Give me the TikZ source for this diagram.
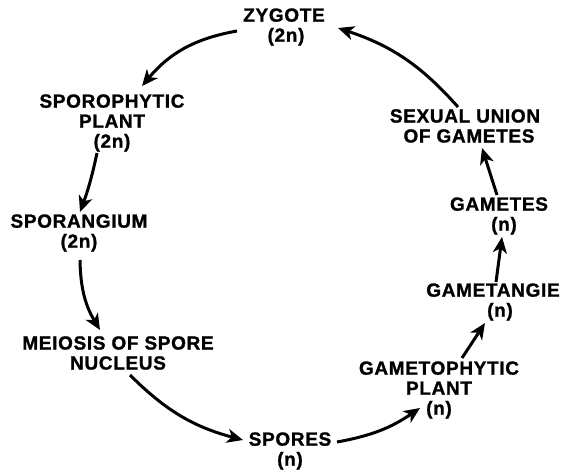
\documentclass[tikz,border=0pt]{standalone}
\usepackage{fontspec}
\setmainfont{Liberation Sans}[LetterSpace=3.5,BoldFeatures={FakeBold=1.2}]
\usetikzlibrary{arrows.meta,calc}
\begin{document}
\begin{tikzpicture}[x=1pt,y=1pt,
  lbl/.style={align=center,inner sep=0pt,font=\bfseries\fontsize{19}{20}\selectfont},
  arr/.style={line width=3pt,-{Stealth[length=16pt,width=14pt,inset=4.5pt]}}]
\useasboundingbox (0,0) rectangle (561,474);
\node[lbl] (zyg) at (284,447) {ZYGOTE\\\hspace*{4pt}(2n)};
\node[lbl] (spo) at (112,351) {SPOROPHYTIC\\PLANT\\(2n)};
\node[lbl] (sporang) at (79,241) {SPORANGIUM\\(2n)};
\node[lbl] (meio) at (118,121) {MEIOSIS OF SPORE\\NUCLEUS};
\node[lbl] (spores) at (290,23) {SPORES\\(n)};
\node[lbl] (gam) at (439,84) {GAMETOPHYTIC\\PLANT\\(n)};
\node[lbl] (gtg) at (493,172) {GAMETANGIE\\\hspace*{14pt}(n)};
\node[lbl] (gmt) at (499,258) {GAMETES\\\hspace*{10pt}(n)};
\node[lbl] (sex) at (465,348) {SEXUAL UNION\\\hspace*{8pt}OF GAMETES};
\draw[arr] ($(zyg)+(-47,-4)$) to[bend right=20] ($(spo)+(30,37)$);
\draw[arr] ($(spo)+(-15,-30)$) to[bend left=4] ($(sporang)+(1,21)$);
\draw[arr] ($(sporang)+(1,-27)$) to[bend right=15] ($(meio)+(-18,23)$);
\draw[arr] ($(meio)+(12,-22)$) to[bend right=15] ($(spores)+(-47,11)$);
\draw[arr] ($(spores)+(47,9)$) to[bend right=12] ($(gam)+(-19,-18)$);
\draw[arr] ($(gam)+(23,32)$) -- ($(gtg)+(-8,-21)$);
\draw[arr] ($(gtg)+(3,20)$) -- ($(gmt)+(3,-21)$);
\draw[arr] ($(gmt)+(-2,21)$) -- ($(sex)+(17,-22)$);
\draw[arr] ($(sex)+(-7,19)$) to[bend right=15] ($(zyg)+(54,-1)$);
\end{tikzpicture}
\end{document}
